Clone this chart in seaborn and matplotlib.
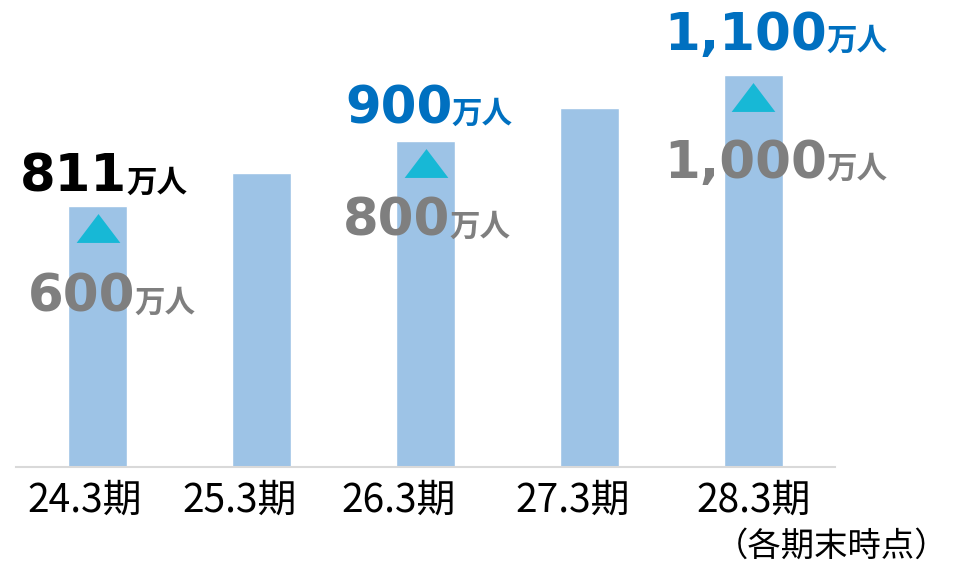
"""
Member count bar chart: actual (811万人) and mid-term targets per fiscal period.

Usage:
    python plot.py
"""
from __future__ import annotations

import matplotlib
matplotlib.use("Agg")
import matplotlib.pyplot as plt
from matplotlib.path import Path
from matplotlib.transforms import ScaledTranslation
import seaborn as sns
import pandas as pd

PERIODS = ["24.3期", "25.3期", "26.3期", "27.3期", "28.3期"]
# schematic bar heights (arbitrary units)
BAR_HEIGHTS = [261, 294, 326, 359, 392]

# annotated periods: new target (top) and previous target (below the arrow)
LABEL_IDX = [0, 2, 4]
NEW_VALUES = ["811", "900", "1,100"]
OLD_VALUES = ["600", "800", "1,000"]
NEW_COLORS = ["#000000", "#0070C0", "#0070C0"]
UNIT = "万人"
NOTE = "（各期末時点）"

BAR_COLOR = "#9DC3E6"
ARROW_COLOR = "#17B8D6"
OLD_COLOR = "#7F7F7F"

NUM_FONT = "DejaVu Sans"
JP_FONT = ["Noto Sans CJK JP", "DejaVu Sans"]

# layout tweaks (data units, 1 unit ~ 1 px vertically)
NEW_DY = [14, 18, 25]
OLD_DY = [-106, -95, -103]
JOINT_DX = [0.18, 0.165, 0.45]
OLD_JOINT_DX = [0.23, 0.15, 0.45]
ARROW_DY = -22
TICK_SHIFT_PX = [-13, -22, -27, -17, 0]


def value_label(ax, x, y, number, color):
    ax.text(x, y, number, ha="right", va="baseline", color=color,
            fontsize=37, fontweight="bold", family=NUM_FONT)
    ax.text(x - 0.005, y, UNIT, ha="left", va="baseline", color=color,
            fontsize=22, fontweight="bold", family=JP_FONT)


def main() -> None:
    sns.set_style("white")
    df = pd.DataFrame({"period": PERIODS, "height": BAR_HEIGHTS})

    fig = plt.figure(figsize=(9.71, 5.66), dpi=100)
    ax = fig.add_axes([16 / 971, 1 - 467 / 566, 819 / 971, 467 / 566])
    sns.barplot(data=df, x="period", y="height", color=BAR_COLOR,
                width=0.36, saturation=1, ax=ax)

    arrow = Path([(-1, -0.66), (1, -0.66), (0, 0.66), (-1, -0.66)],
                 [Path.MOVETO, Path.LINETO, Path.LINETO, Path.CLOSEPOLY])
    tops = [BAR_HEIGHTS[i] for i in LABEL_IDX]
    ax.scatter(LABEL_IDX, [t + ARROW_DY for t in tops], marker=arrow,
               s=31.5 ** 2, color=ARROW_COLOR, linewidths=0, zorder=3)

    for k, i in enumerate(LABEL_IDX):
        top = BAR_HEIGHTS[i]
        value_label(ax, i + JOINT_DX[k], top + NEW_DY[k], NEW_VALUES[k], NEW_COLORS[k])
        value_label(ax, i + OLD_JOINT_DX[k], top + OLD_DY[k], OLD_VALUES[k], OLD_COLOR)

    ax.set_xlim(-0.5, 4.5)
    ax.set_ylim(0, 467)
    ax.set_xlabel("")
    ax.set_ylabel("")
    ax.set_yticks([])
    ax.set_xticks(range(len(PERIODS)))
    ax.set_xticklabels(PERIODS, fontsize=28, family=JP_FONT, color="black")
    ax.tick_params(axis="x", length=0, pad=10)
    for lbl, dx in zip(ax.get_xticklabels(), TICK_SHIFT_PX):
        lbl.set_transform(lbl.get_transform()
                          + ScaledTranslation(dx / 100, 0, fig.dpi_scale_trans))
    for side in ["top", "right", "left"]:
        ax.spines[side].set_visible(False)
    ax.spines["bottom"].set_color("#D9D9D9")
    ax.spines["bottom"].set_linewidth(1.5)
    ax.patch.set_alpha(0)

    fig.text(948 / 971, 1 - 546 / 566, NOTE, ha="right", va="center",
             fontsize=24, family=JP_FONT, color="black")

    fig.savefig("out.png", dpi=100)
    plt.close(fig)


if __name__ == "__main__":
    main()
